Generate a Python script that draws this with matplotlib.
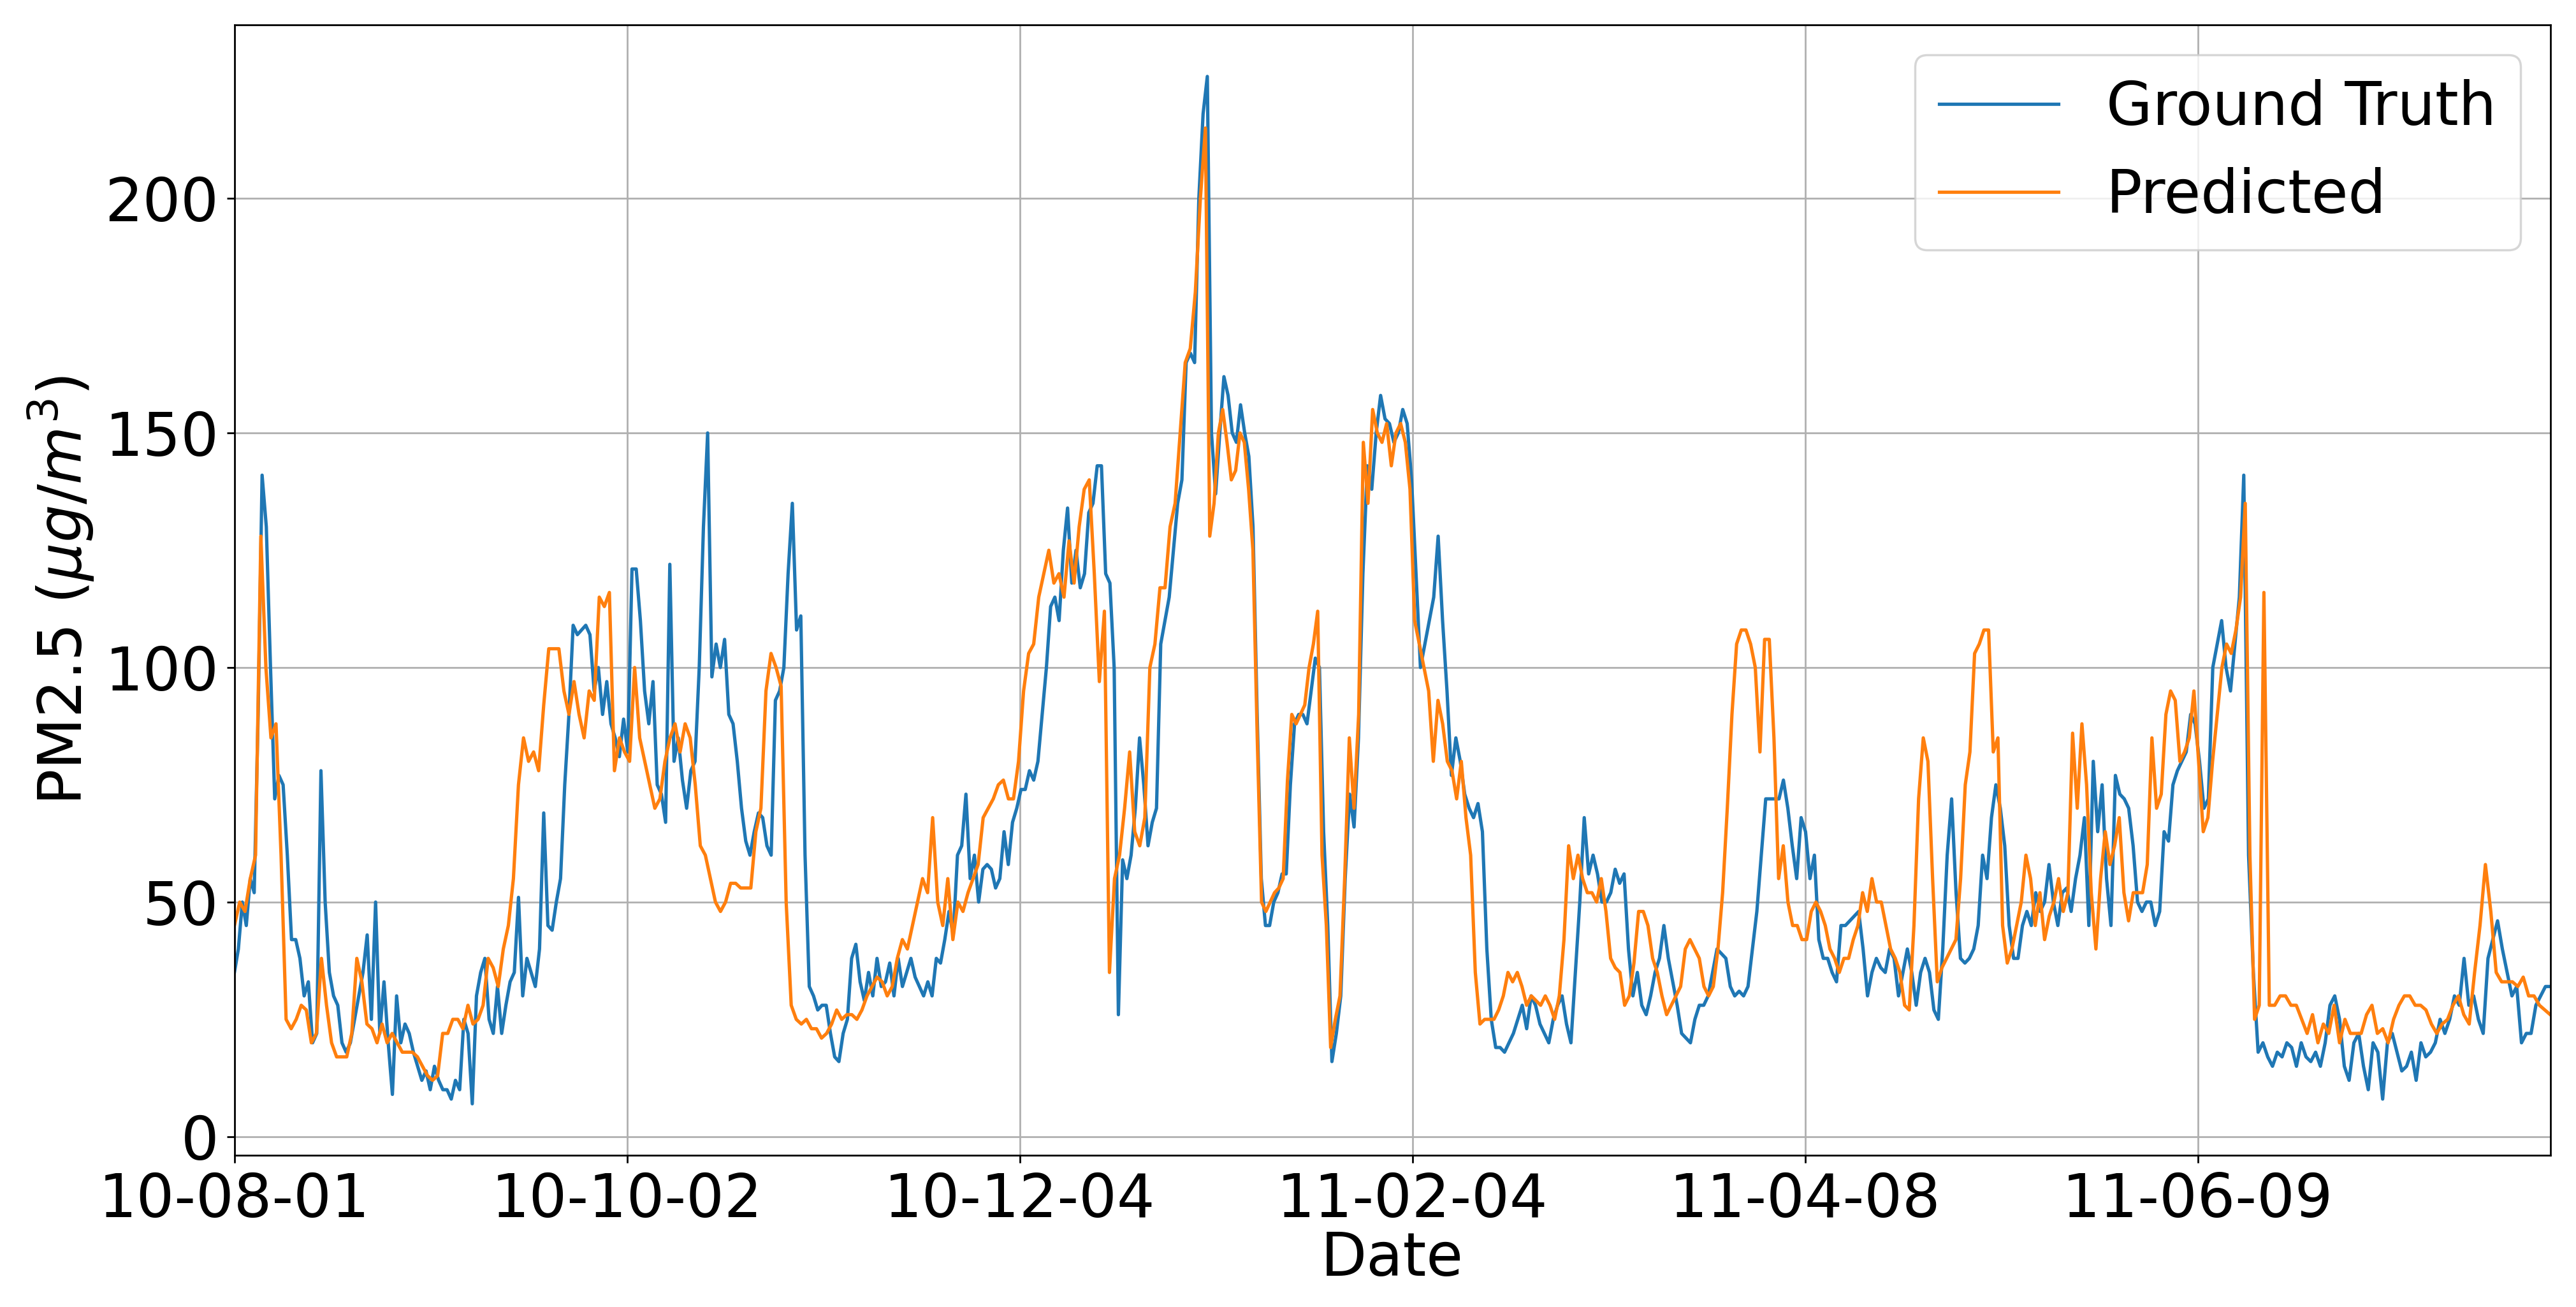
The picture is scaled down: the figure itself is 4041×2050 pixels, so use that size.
import numpy as np
import matplotlib
matplotlib.use('Agg')
import matplotlib.pyplot as plt

ground_truth = [35,40,50,45,55,52,90,141,130,100,72,77,75,60,42,42,38,30,33,20,22,78,50,35,30,28,20,18,20,25,30,35,43,25,50,22,33,20,9,30,20,24,22,18,15,12,14,10,15,12,10,10,8,12,10,25,22,7,30,35,38,25,22,32,22,28,33,35,51,30,38,35,32,40,69,45,44,50,55,75,90,109,107,108,109,107,95,100,90,97,88,85,81,89,82,121,121,110,95,88,97,75,73,67,122,80,85,76,70,78,80,100,130,150,98,105,100,106,90,88,80,70,63,60,65,69,68,62,60,93,95,100,120,135,108,111,60,32,30,27,28,28,22,17,16,22,25,38,41,33,29,35,30,38,32,33,37,30,38,32,35,38,34,32,30,33,30,38,37,42,48,43,60,62,73,55,60,50,57,58,57,53,55,65,58,67,70,74,74,78,76,80,90,100,113,115,110,125,134,118,125,117,120,133,135,143,143,120,118,100,26,59,55,60,70,85,75,62,67,70,105,110,115,125,135,140,165,167,165,200,218,226,150,137,150,162,158,150,148,156,150,145,130,90,55,45,45,50,52,56,56,75,88,90,90,88,95,102,100,65,45,16,22,30,55,73,66,85,120,143,138,150,158,153,152,148,150,155,152,140,120,100,105,110,115,128,110,95,77,85,80,73,70,68,71,65,40,25,19,19,18,20,22,25,28,23,30,28,24,22,20,25,28,30,24,20,35,50,68,56,60,56,50,50,52,57,54,56,40,30,35,28,26,30,35,38,45,38,33,28,22,21,20,25,28,28,30,35,40,39,38,32,30,31,30,32,40,48,60,72,72,72,72,76,70,62,55,68,65,55,60,42,38,38,35,33,45,45,46,47,48,40,30,35,38,36,35,40,38,30,35,40,35,28,35,38,35,27,25,40,60,72,52,38,37,38,40,45,60,55,68,75,70,62,45,38,38,45,48,45,52,48,50,58,50,45,52,53,48,55,60,68,45,80,65,75,55,45,77,73,72,70,62,50,48,50,50,45,48,65,63,75,78,80,82,90,88,80,70,72,100,105,110,100,95,105,115,141,60,35,18,20,17,15,18,17,20,19,15,20,17,16,18,15,20,28,30,25,15,12,20,22,15,10,20,18,8,20,22,18,14,15,18,12,20,17,18,20,25,22,25,30,28,38,28,30,25,22,38,42,46,40,35,30,32,20,22,22,28,30,32,32]

predicted = [45,50,48,55,60,128,100,85,88,60,25,23,25,28,27,20,22,38,28,20,17,17,17,22,38,33,24,23,20,24,20,22,20,18,18,18,17,15,13,12,13,22,22,25,25,23,28,24,25,28,38,36,32,40,45,55,75,85,80,82,78,92,104,104,104,95,90,97,90,85,95,93,115,113,116,78,85,82,80,100,85,80,75,70,72,80,85,88,82,88,85,75,62,60,55,50,48,50,54,54,53,53,53,65,70,95,103,100,96,50,28,25,24,25,23,23,21,22,24,27,25,26,26,25,27,30,32,34,33,30,32,38,42,40,45,50,55,52,68,50,45,55,42,50,48,52,55,58,68,70,72,75,76,72,72,80,95,103,105,115,120,125,118,120,115,127,118,130,138,140,120,97,112,35,55,60,70,82,65,62,68,100,105,117,117,130,135,150,165,168,180,200,215,128,135,150,155,148,140,142,150,148,138,125,85,50,48,50,52,53,55,76,90,88,90,92,100,105,112,60,45,19,25,30,55,85,70,90,148,135,155,150,148,152,143,150,152,148,138,110,105,100,95,80,93,88,80,78,72,80,68,60,35,24,25,25,25,27,30,35,33,35,32,28,30,29,28,30,28,25,30,42,62,55,60,55,52,52,50,55,48,38,36,35,28,30,37,48,48,45,38,35,30,26,28,30,32,40,42,40,38,32,30,32,40,52,70,90,105,108,108,105,100,82,106,106,85,55,62,50,45,45,42,42,48,50,48,45,40,38,35,38,38,42,45,52,48,55,50,50,45,40,38,35,28,27,45,72,85,80,55,33,36,38,40,42,55,75,82,103,105,108,108,82,85,45,37,40,45,50,60,55,45,52,42,47,50,55,48,52,86,70,88,75,52,40,55,65,58,62,68,52,46,52,52,52,58,85,70,73,90,95,93,80,82,85,95,80,65,68,80,90,100,105,103,108,115,135,60,25,28,116,28,28,30,30,28,28,25,22,26,20,24,22,28,20,25,22,22,22,26,28,22,23,20,25,28,30,30,28,28,27,24,22,24,25,28,30,26,24,35,45,58,48,35,33,33,33,32,34,30,30,28,27,26]

tick_labels = ['10-08-01', '10-10-02', '10-12-04', '11-02-04', '11-04-08', '11-06-09']
tick_days = [0, 62.4, 124.8, 187.2, 249.6, 312]
n_days = 368


def day_positions(series, anchors):
    # anchors: list of (value, search_start_value_or_None, day)
    idx, days = [0], [0]
    start = 0
    for value, day in anchors:
        i = series.index(value, start)
        idx.append(i)
        days.append(day)
        start = i + 1
    idx.append(len(series) - 1)
    days.append(n_days)
    return np.interp(np.arange(len(series)), idx, days)


x_gt = day_positions(ground_truth, [(141, 4.4), (150, 75.2), (226, 154.6),
                                    (16, 174.4), (141, 319.3)])
x_pr = day_positions(predicted, [(128, 4.2), (215, 154.3), (19, 174.2),
                                 (116, 322.5)])

fig = plt.figure(figsize=(16.164, 8.2), dpi=250)
ax = fig.add_axes([0.091, 0.116, 0.899, 0.865])
ax.plot(x_gt, ground_truth, color='#1f77b4', linewidth=1.5, label='Ground Truth')
ax.plot(x_pr, predicted, color='#ff7f0e', linewidth=1.5, label='Predicted')
ax.set_xlim(0, n_days)
ax.set_ylim(-4, 237)
ax.set_xticks(tick_days)
ax.set_xticklabels(tick_labels)
ax.set_yticks([0, 50, 100, 150, 200])
ax.tick_params(labelsize=27)
ax.set_xlabel('Date', fontsize=27, labelpad=0)
ax.set_ylabel(r'PM2.5 ($\mu g/m^3$)', fontsize=27)
ax.grid(True)
ax.legend(loc='upper right', fontsize=27)
fig.savefig('out.png', dpi=250)
